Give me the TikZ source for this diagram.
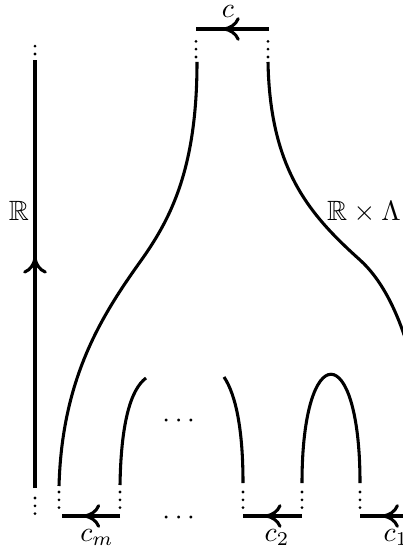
\documentclass[tikz,border=0pt]{standalone}
\usepackage{amsmath}
\usepackage{amssymb}
\usetikzlibrary{arrows.meta, decorations.markings}

\begin{document}
\begin{tikzpicture}[x=0.0126cm, y=-0.0126cm, line width=1.1pt,
    dots/.style={line width=1.1pt, line cap=round, dash pattern=on 0pt off 2.8pt},
    midarrow/.style={postaction={decorate}, decoration={markings,
      mark=at position #1 with {\arrow{Computer Modern Rightarrow[length=6pt, width=8.5pt]}}}}]
  \useasboundingbox (0,0) rectangle (403,553);
  \clip (0,0) rectangle (403,553);
  % time axis
  \coordinate (rbot) at (35,488);
  \coordinate (rtop) at (35,60);
  \draw[midarrow=0.54] (rbot) -- (rtop);
  \draw[dots] (35,54) -- (35,44);
  \draw[dots] (35,498) -- (35,516);
  \node[anchor=base] (lr) at (19,221) {$\mathbb{R}$};
  % ---------------- top end ----------------
  \coordinate (tl) at (196,29);
  \coordinate (tr) at (269,29);
  \draw[midarrow=0.63] (tr) -- (tl);
  \node[anchor=base, inner sep=1pt] (lc) at (228,18) {$c$};
  \draw[dots] (196,57) -- (196,36);
  \draw[dots] (268,57) -- (268,36);
  % trunk
  \draw (197,62) .. controls (197,170) and (170,220) .. (140,262)
                 .. controls (100,318) and (62,380) .. (59,486);
  \draw (268,62) .. controls (270,170) and (310,215) .. (360,260)
                 .. controls (400,296) and (425,380) .. (428,486);
  \node[anchor=base] (lrl) at (364,221) {$\mathbb{R}\times\Lambda$};
  % ---------------- bottom ends ----------------
  \draw (120,485) .. controls (121,425) and (130,390) .. (146,378);
  \draw (224,377) .. controls (236,395) and (243,430) .. (243,483);
  \draw (302,483) .. controls (302,338) and (360,338) .. (360,483);
  \foreach \xx in {59,120,243,302,360}
    \draw[dots] (\xx,492) -- (\xx,514);
  \coordinate (m0) at (62,516);
  \coordinate (m1) at (120,516);
  \coordinate (b0) at (243,516);
  \coordinate (b1) at (302,516);
  \coordinate (a0) at (360,516);
  \coordinate (a1) at (420,516);
  \draw[midarrow=0.63] (m1) -- (m0);
  \draw[midarrow=0.63] (b1) -- (b0);
  \draw[midarrow=0.63] (a1) -- (a0);
  \node[anchor=base] (lcm) at (97,541) {$c_m$};
  \node[anchor=base] (lc2) at (277,541) {$c_2$};
  \node[anchor=base] (lc1) at (396,541) {$c_1$};
  \node[anchor=base] (dtop) at (181,427) {$\cdots$};
  \node[anchor=base] (dbot) at (181,524) {$\cdots$};
\end{tikzpicture}
\end{document}
